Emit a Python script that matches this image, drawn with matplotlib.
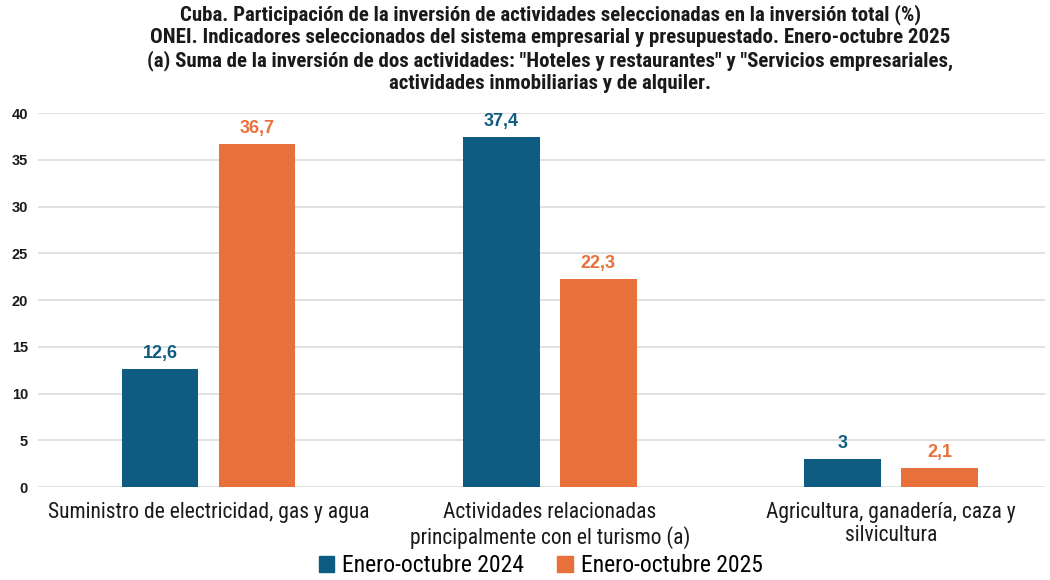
import matplotlib

matplotlib.use("Agg")
import matplotlib.pyplot as plt
import numpy as np
from matplotlib.patches import Patch

CATEGORIES = [
    "Suministro de electricidad, gas y agua",
    "Actividades relacionadas\nprincipalmente con el turismo (a)",
    "Agricultura, ganadería, caza y\nsilvicultura",
]
SERIES_NAMES = ["Enero-octubre 2024", "Enero-octubre 2025"]
VALUES_2024 = [12.6, 37.4, 3.0]
VALUES_2025 = [36.7, 22.3, 2.1]
Y_TICKS = [0, 5, 10, 15, 20, 25, 30, 35, 40]

TITLE_LINES = [
    "Cuba. Participación de la inversión de actividades seleccionadas en la inversión total (%)",
    "ONEI. Indicadores seleccionados del sistema empresarial y presupuestado. Enero-octubre 2025",
    "(a) Suma de la inversión de dos actividades: \"Hoteles y restaurantes\" y \"Servicios empresariales,",
    "actividades inmobiliarias y de alquiler.",
]

BLUE = "#0E5C82"
ORANGE = "#E8703A"
GRID_COLOR = "#DCDCDC"
TEXT_COLOR = "#1A1A1A"
NARROW = ["Roboto Condensed", "DejaVu Sans"]
ARIAL = ["Liberation Sans", "DejaVu Sans"]


def _format_value(value):
    if float(value).is_integer():
        return f"{int(value)}"
    return f"{value:.1f}".replace(".", ",")


figure = plt.figure(figsize=(10.5, 5.8), dpi=100, facecolor="white")
axis = figure.add_axes([0.036, 0.160, 0.959, 0.645])

x_positions = np.arange(len(CATEGORIES))
bar_width = 0.225
offset = 0.142

bars_2024 = axis.bar(x_positions - offset, VALUES_2024, bar_width, color=BLUE, zorder=3)
bars_2025 = axis.bar(x_positions + offset, VALUES_2025, bar_width, color=ORANGE, zorder=3)

for bars, values, color in ((bars_2024, VALUES_2024, BLUE), (bars_2025, VALUES_2025, ORANGE)):
    for bar, value in zip(bars, values):
        axis.annotate(
            _format_value(value),
            (bar.get_x() + bar.get_width() / 2, value),
            xytext=(0, 5),
            textcoords="offset points",
            ha="center",
            va="bottom",
            fontsize=13,
            family=ARIAL,
            weight="bold",
            color=color,
        )

axis.set_xlim(-0.5, 2.45)
axis.set_ylim(0, 40)
axis.set_yticks(Y_TICKS)
axis.set_yticklabels(
    [str(t) for t in Y_TICKS], fontsize=10.5, family=ARIAL, weight="bold", color=TEXT_COLOR
)
axis.grid(axis="y", color=GRID_COLOR, linewidth=1.2, zorder=0)
axis.tick_params(axis="both", length=0)
axis.tick_params(axis="y", pad=7)
for spine in axis.spines.values():
    spine.set_visible(False)

axis.set_xticks(x_positions)
axis.set_xticklabels(
    CATEGORIES, fontsize=15.5, family=NARROW, color=TEXT_COLOR, linespacing=1.12
)
axis.tick_params(axis="x", pad=11)

figure.text(
    0.524,
    0.992,
    "\n".join(TITLE_LINES),
    ha="center",
    va="top",
    fontsize=15,
    weight="bold",
    family=NARROW,
    color=TEXT_COLOR,
    linespacing=1.19,
)

handles = [Patch(color=BLUE), Patch(color=ORANGE)]
figure.legend(
    handles,
    SERIES_NAMES,
    loc="lower center",
    bbox_to_anchor=(0.515, -0.032),
    ncol=2,
    frameon=False,
    prop={"family": NARROW, "size": 17},
    handlelength=0.65,
    handleheight=0.65,
    handletextpad=0.35,
    columnspacing=1.4,
)

figure.savefig("out.png", dpi=100, facecolor="white")
plt.close(figure)
